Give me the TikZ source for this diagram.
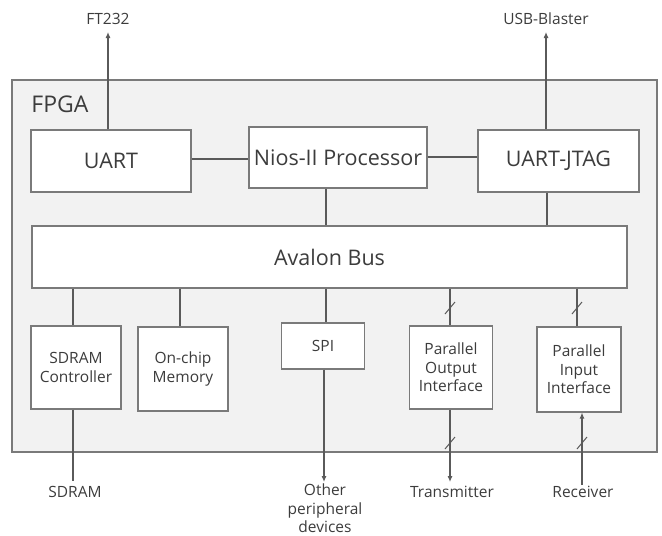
\documentclass[tikz,border=0pt]{standalone}
\usepackage{fontspec}
\setmainfont{Open Sans}
\usepackage{tikz}
\usetikzlibrary{arrows.meta}
\definecolor{fpgafill}{HTML}{F2F2F2}
\definecolor{boxgray}{HTML}{7A7A7A}
\definecolor{linegray}{HTML}{5A5A5A}
\definecolor{textgray}{HTML}{3C3C3C}
\def\bigtxt{\fontsize{21.5}{24}\selectfont}
\def\smalltxt{\fontsize{15.5}{18.5}\selectfont}

\begin{document}
\begin{tikzpicture}[x=1pt,y=-1pt,
        block/.style={draw=boxgray,fill=white,line width=1.1pt,inner sep=0pt,align=center,text=textgray},
        wire/.style={draw=linegray,line width=1.1pt},
        sig/.style={wire,-{Latex[length=6pt,width=5pt]}},
        lbl/.style={text=textgray,align=center,inner sep=0pt,font=\smalltxt}]
        \useasboundingbox (0,0) rectangle (662,536);
        % FPGA frame
        \draw[draw=boxgray,fill=fpgafill,line width=1.1pt] (12,80) rectangle (657,452);
        \node[text=textgray,font=\fontsize{23}{26}\selectfont] (fpga) at (60,104) {FPGA};
        % upper row
        \node[block,font=\bigtxt,minimum width=160,minimum height=62] (uart) at (111,161) {UART};
        \node[block,font=\bigtxt,minimum width=178,minimum height=61] (nios) at (338,157.5) {Nios-II Processor};
        \node[block,font=\bigtxt,minimum width=161,minimum height=62] (jtag) at (558.5,161) {UART-JTAG};
        \node[block,font=\bigtxt,minimum width=595,minimum height=62] (avalon) at (329.5,257) {Avalon Bus};
        % lower row
        \node[block,font=\smalltxt,minimum width=90,minimum height=83] (sdramc) at (76,367.5) {SDRAM\\Controller};
        \node[block,font=\smalltxt,minimum width=90,minimum height=84] (onchip) at (183,369) {On-chip\\Memory};
        \node[block,font=\smalltxt,minimum width=83,minimum height=46] (spi) at (323,346) {SPI};
        \node[block,font=\smalltxt,minimum width=83,minimum height=83] (pout) at (451,367.5) {Parallel\\Output\\Interface};
        \node[block,font=\smalltxt,minimum width=84,minimum height=85] (pin) at (579,369.5) {Parallel\\Input\\Interface};
        % outside world
        \node[lbl] (ft232) at (108,19) {FT232};
        \node[lbl] (usb) at (546,19) {USB-Blaster};
        \node[lbl] (sdram) at (75,492) {SDRAM};
        \node[lbl,anchor=north] (other) at (325,484) {Other\\peripheral\\devices};
        \node[lbl] (tx) at (452,492) {Transmitter};
        \node[lbl] (rx) at (583,492) {Receiver};
        \coordinate (ft232end) at (108,32);
        \coordinate (usbend) at (546,32);
        % links
        \draw[wire] (uart.east |- 0,159) -- (nios.west |- 0,159);
        \draw[wire] (nios.east |- 0,157) -- (jtag.west |- 0,157);
        \draw[sig] (uart.north -| ft232end) -- (ft232end);
        \draw[sig] (jtag.north -| usbend) -- (usbend);
        \draw[wire] (nios.south -| 326,0) -- (avalon.north -| 326,0);
        \draw[wire] (jtag.south -| 547,0) -- (avalon.north -| 547,0);
        \foreach \Box/\X in {sdramc/73, onchip/180, spi/326, pout/450, pin/577}
        \draw[wire] (avalon.south -| \X,0) -- (\Box.north -| \X,0);
        \draw[wire] (sdramc.south -| 73,0) -- (73,481);
        \draw[sig] (spi.south -| 324,0) -- (324,482);
        \draw[sig] (pout.south -| 450,0) -- (450,482);
        \draw[sig] (582,485) -- (pin.south -| 582,0);
        % bus width marks
        \foreach \Point in {(450,308), (577,308), (450,443), (582,443)}
        \draw[wire,line width=1pt] \Point ++(-5,6) -- ++(10,-12);
\end{tikzpicture}
\end{document}
